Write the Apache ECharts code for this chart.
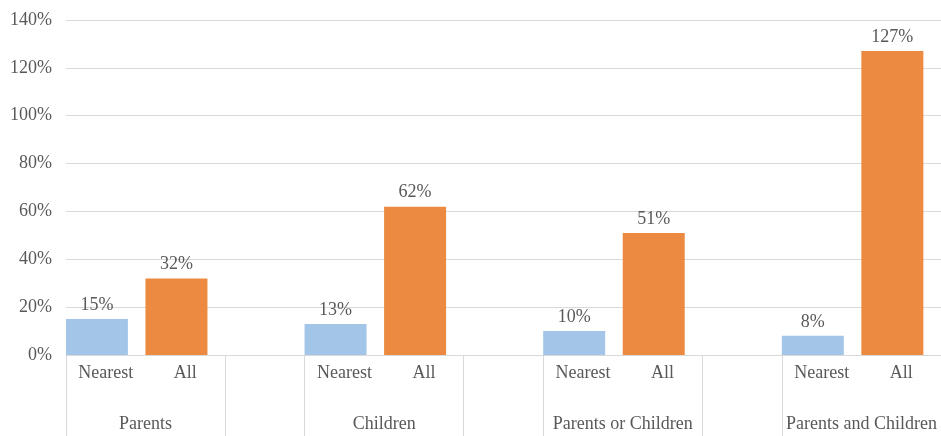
<!DOCTYPE html>
<html>
<head>
<meta charset="utf-8">
<script src="https://cdn.jsdelivr.net/npm/echarts@6/dist/echarts.min.js"></script>
<style>html,body{margin:0;padding:0;background:#fff}#c{width:941px;height:436px}</style>
</head>
<body>
<div id="c"></div>
<script>
const groups = ['Parents', 'Children', 'Parents or Children', 'Parents and Children'];
const subLabels = ['Nearest', 'All'];
const nearest = [15, 13, 10, 8];
const all = [32, 62, 51, 127];
const yTicks = [0, 20, 40, 60, 80, 100, 120, 140];

// Build the 11 category slots: Nearest, All, (spacer) per group
const categories = [];
const nearestData = [];
const allData = [];
groups.forEach((g, i) => {
  categories.push(subLabels[0], subLabels[1]);
  nearestData.push(nearest[i], '-');
  allData.push('-', all[i]);
  if (i < groups.length - 1) {
    categories.push('');
    nearestData.push('-');
    allData.push('-');
  }
});
// Boundaries where separator lines are drawn (start of each group and each spacer)
const sepIdx = new Set();
for (let i = 0; i < categories.length; i++) {
  if (i % 3 === 0 || i % 3 === 2) sepIdx.add(i);
}

const font = 'Liberation Serif';
const txt = '#595959';
const lineC = '#d9d9d9';
const fs = 18;

const chart = echarts.init(document.getElementById('c'));
chart.setOption({
  animation: false,
  grid: { left: 66, right: 0, top: 20, bottom: 81, outerBoundsMode: 'none', containLabel: false },
  xAxis: [{
    type: 'category',
    data: categories,
    boundaryGap: true,
    axisLine: { lineStyle: { color: lineC, width: 1 } },
    axisTick: {
      show: true,
      length: 85,
      interval: (idx) => sepIdx.has(idx),
      lineStyle: { color: lineC, width: 1 }
    },
    axisLabel: { interval: 0, margin: 9, color: txt, fontFamily: font, fontSize: fs }
  }, {
    type: 'value',
    position: 'bottom',
    min: 0,
    max: categories.length,
    interval: 1,
    axisLine: { show: false },
    axisTick: { show: false },
    splitLine: { show: false },
    axisLabel: {
      margin: 60,
      color: txt,
      fontFamily: font,
      fontSize: fs,
      showMinLabel: true,
      showMaxLabel: true,
      hideOverlap: false,
      formatter: (v) => ((v - 1) % 3 === 0 ? groups[(v - 1) / 3] : '')
    }
  }],
  yAxis: {
    type: 'value',
    min: yTicks[0],
    max: yTicks[yTicks.length - 1],
    interval: 20,
    axisLine: { show: false },
    axisTick: { show: false },
    splitLine: { lineStyle: { color: lineC, width: 1 } },
    axisLabel: { margin: 14, color: txt, fontFamily: font, fontSize: fs, formatter: '{value}%' }
  },
  series: [{
    name: 'Nearest', type: 'bar', stack: 'bars', xAxisIndex: 0,
    data: nearestData, barWidth: 62, barGap: '-71.4%',
    itemStyle: { color: '#a3c6e8' },
    label: { show: true, position: 'top', distance: 5, formatter: '{c}%', color: txt, fontFamily: font, fontSize: fs }
  }, {
    name: 'All', type: 'bar', stack: 'bars', xAxisIndex: 0,
    data: allData, barWidth: 62, barGap: '-71.4%',
    itemStyle: { color: '#ed8a41' },
    label: { show: true, position: 'top', distance: 5, formatter: '{c}%', color: txt, fontFamily: font, fontSize: fs }
  }, {
    name: 'pad', type: 'bar', stack: 'pad', xAxisIndex: 0,
    data: [], barWidth: 62, barGap: '-71.4%'
  }]
});
</script>
</body>
</html>
